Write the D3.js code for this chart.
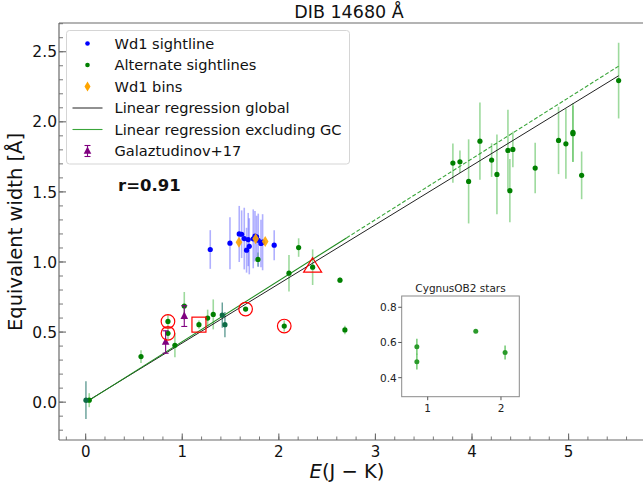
<!DOCTYPE html>
<html><head><meta charset="utf-8">
<script src="https://cdn.jsdelivr.net/npm/d3@7"></script>
<style>
body{margin:0;background:#fff;}
svg text{font-family:"DejaVu Sans",sans-serif;}
</style></head>
<body><svg id="c" width="643" height="488"></svg>
<script>
// ---------- data ----------
const wd1X   = [1.29,1.494,1.59,1.615,1.642,1.683,1.666,1.694,1.735,1.753,1.77,1.787,1.815,1.832,1.952];
const wd1Y   = [1.089,1.134,1.20,1.198,1.167,1.160,1.084,1.112,1.165,1.184,1.18,1.155,1.132,1.141,1.12];
const wd1Err = [0.138,0.185,0.2,0.17,0.22,0.19,0.16,0.2,0.21,0.18,0.15,0.19,0.17,0.2,0.107];

const binX = [1.587,1.76,1.859];
const binY = [1.141,1.165,1.146];

const altX   = [0.037,0.573,0.852,0.852,0.924,1.021,1.173,1.263,1.321,1.656,1.784,2.056,2.105,2.205,2.35,2.633,2.684,
                3.802,3.875,3.965,4.082,4.203,4.258,4.372,4.392,4.423,4.654,4.896,4.972,5.045,5.045,5.135,5.518];
const altY   = [0.014,0.325,0.576,0.491,0.406,0.686,0.553,0.600,0.626,0.664,1.018,0.543,0.920,1.103,0.963,0.870,0.515,
                1.706,1.715,1.575,1.862,1.727,1.625,1.796,1.509,1.803,1.670,1.867,1.843,1.924,1.915,1.618,2.294];
const altErr = [0.05,0.046,0.045,0.045,0.085,0.1,0.03,0.06,0.107,0.01,0.05,0.04,0.13,0.066,0.127,0.02,0.03,
                0.14,0.08,0.30,0.275,0.12,0.285,0.29,0.225,0.127,0.18,0.24,0.25,0.21,0.2,0.17,0.27];

// alternate sightlines whose error bars overlap Wd1-type bars (darker)
const altDarkX   = [0.003,1.414,1.442];
const altDarkY   = [0.014,0.621,0.553];
const altDarkErr = [0.135,0.09,0.09];

const galX   = [0.828,1.021];
const galY   = [0.429,0.614];
const galErr = [0.08,0.074];

const cygX = [0.852,0.852,1.656,2.056];
const cygY = [0.576,0.491,0.664,0.543];
const cygErr = [0.045,0.045,0.01,0.04];
const squareX = [1.173], squareY = [0.553];
const triX = [2.35], triY = [0.97];

const regGlobal = [0.422, 0.0];     // slope, intercept
const regExGC   = [0.435, -0.003];
const regRange  = [0.003, 5.518];
const regExGCSolidEnd = 2.7;

const xTicks = [0,1,2,3,4,5];
const yTicks = [0,0.5,1,1.5,2,2.5];
const insetXTicks = [1,2];
const insetYTicks = [0.4,0.6,0.8];
const legendLabels = ["Wd1 sightline","Alternate sightlines","Wd1 bins","Linear regression global","Linear regression excluding GC","Galaztudinov+17"];

// ---------- chart ----------
const svg = d3.select("#c");
const L=59, R=642, T=23, B=440;
const x = d3.scaleLinear().domain([-0.276,5.76]).range([L,R]);
const y = d3.scaleLinear().domain([-0.27,2.705]).range([B,T]);
const spine="#6a6a6a";

const plot = svg.append("g");
const greenErr="#4cbb4c";

const lineG = d3.line().x(d=>x(d)).y(d=>y(regGlobal[0]*d+regGlobal[1]));
const lineE = d3.line().x(d=>x(d)).y(d=>y(regExGC[0]*d+regExGC[1]));

function errbars(xs,ys,es,color,op,w){
  plot.append("g").selectAll("line").data(xs).join("line")
    .attr("x1",(d)=>x(d)).attr("x2",d=>x(d))
    .attr("y1",(d,i)=>y(ys[i]-es[i])).attr("y2",(d,i)=>y(ys[i]+es[i]))
    .attr("stroke",color).attr("stroke-opacity",op).attr("stroke-width",w);
}
errbars(altX,altY,altErr,greenErr,0.55,1.6);
errbars(wd1X,wd1Y,wd1Err,"#3030ff",0.38,1.6);
errbars(altDarkX,altDarkY,altDarkErr,"#2a7a70",0.85,1.2);

plot.append("path").datum(regRange).attr("d",lineG).attr("stroke","#222").attr("stroke-width",1).attr("fill","none");
plot.append("path").datum([regRange[0],regExGCSolidEnd]).attr("d",lineE).attr("stroke","#1e8a1e").attr("stroke-width",1.1).attr("fill","none");
plot.append("path").datum([regExGCSolidEnd,regRange[1]]).attr("d",lineE).attr("stroke","#3aa53a").attr("stroke-width",1.1).attr("stroke-dasharray","4,2").attr("fill","none");

plot.append("g").selectAll("circle").data(altX).join("circle")
  .attr("cx",d=>x(d)).attr("cy",(d,i)=>y(altY[i])).attr("r",2.6).attr("fill","green");
plot.append("g").selectAll("circle").data(altDarkX).join("circle")
  .attr("cx",d=>x(d)).attr("cy",(d,i)=>y(altDarkY[i])).attr("r",2.6).attr("fill","#0d6b45");
plot.append("g").selectAll("circle").data(wd1X).join("circle")
  .attr("cx",d=>x(d)).attr("cy",(d,i)=>y(wd1Y[i])).attr("r",2.6).attr("fill","blue");
const diamond = (cx,cy,w,h)=>`M${cx},${cy-h}L${cx+w},${cy}L${cx},${cy+h}L${cx-w},${cy}Z`;
plot.append("g").selectAll("path").data(binX).join("path")
  .attr("d",(d,i)=>diamond(x(d),y(binY[i]),3.3,5.5)).attr("fill","orange").attr("fill-opacity",0.9);

function galMark(g,cx,cy,yl,yh){
  g.append("line").attr("x1",cx).attr("x2",cx).attr("y1",yl).attr("y2",yh).attr("stroke","purple").attr("stroke-width",1.1);
  [yl,yh].forEach(v=>g.append("line").attr("x1",cx-3).attr("x2",cx+3).attr("y1",v).attr("y2",v).attr("stroke","purple").attr("stroke-width",1.1));
  g.append("path").attr("d",`M${cx},${cy-4.5}L${cx+3.8},${cy+2.8}L${cx-3.8},${cy+2.8}Z`).attr("fill","purple");
}
galX.forEach((d,i)=>galMark(plot,x(d),y(galY[i]),y(galY[i]-galErr[i]),y(galY[i]+galErr[i])));

plot.append("g").selectAll("circle").data(cygX).join("circle")
  .attr("cx",d=>x(d)).attr("cy",(d,i)=>y(cygY[i])).attr("r",6.8).attr("fill","none").attr("stroke","red").attr("stroke-width",1.2);
plot.append("g").selectAll("rect").data(squareX).join("rect")
  .attr("x",d=>x(d)-7).attr("y",(d,i)=>y(squareY[i])-7.5).attr("width",14).attr("height",15)
  .attr("fill","none").attr("stroke","red").attr("stroke-width",1.2);
plot.append("g").selectAll("path").data(triX).join("path")
  .attr("d",(d,i)=>{const cx=x(d),cy=y(triY[i]);return `M${cx},${cy-8.5}L${cx+9},${cy+6}L${cx-9},${cy+6}Z`;})
  .attr("fill","none").attr("stroke","red").attr("stroke-width",1.2);

svg.append("line").attr("x1",L).attr("x2",L).attr("y1",T).attr("y2",B).attr("stroke",spine).attr("stroke-width",1.2);
svg.append("line").attr("x1",L).attr("x2",643).attr("y1",B).attr("y2",B).attr("stroke",spine).attr("stroke-width",1.2);
svg.append("line").attr("x1",L).attr("x2",643).attr("y1",T).attr("y2",T).attr("stroke",spine).attr("stroke-width",1.2);

const xMinor = d3.range(-0.2,5.7,0.2).map(v=>+v.toFixed(2));
svg.append("g").selectAll("line").data(xMinor).join("line")
  .attr("x1",d=>x(d)).attr("x2",d=>x(d)).attr("y1",B).attr("y2",B-3.5).attr("stroke",spine).attr("stroke-width",0.9);
svg.append("g").selectAll("line").data(xTicks).join("line")
  .attr("x1",d=>x(d)).attr("x2",d=>x(d)).attr("y1",B).attr("y2",B-6.5).attr("stroke",spine).attr("stroke-width",1.1);
svg.append("g").selectAll("text").data(xTicks).join("text")
  .attr("x",d=>x(d)).attr("y",B+17).attr("text-anchor","middle").attr("font-size",15).attr("fill","#111").text(d=>d);

const yMinor = d3.range(-0.2,2.71,0.1).map(v=>+v.toFixed(2));
svg.append("g").selectAll("line").data(yMinor).join("line")
  .attr("x1",L).attr("x2",L+4).attr("y1",d=>y(d)).attr("y2",d=>y(d)).attr("stroke",spine).attr("stroke-width",0.9);
svg.append("g").selectAll("line").data(yTicks).join("line")
  .attr("x1",L).attr("x2",L+7).attr("y1",d=>y(d)).attr("y2",d=>y(d)).attr("stroke",spine).attr("stroke-width",1.1);
svg.append("g").selectAll("text").data(yTicks).join("text")
  .attr("x",L-2).attr("y",d=>y(d)+5.6).attr("text-anchor","end").attr("font-size",15.5).attr("fill","#111").text(d=>d.toFixed(1));

svg.append("text").attr("x",349).attr("y",18).attr("text-anchor","middle").attr("font-size",17.5).attr("fill","#111").text("DIB 14680 Å");
const xl = svg.append("text").attr("x",347).attr("y",478).attr("text-anchor","middle").attr("font-size",19.5).attr("fill","#111");
xl.append("tspan").attr("font-style","italic").text("E");
xl.append("tspan").text("(J − K)");
svg.append("text").attr("transform","translate(22,232) rotate(-90)").attr("text-anchor","middle").attr("font-size",19.5).attr("fill","#111").text("Equivalent width [Å]");
svg.append("text").attr("x",118).attr("y",191).attr("font-size",16.5).attr("font-weight","bold").attr("fill","#111").text("r=0.91");

const lg = svg.append("g");
lg.append("rect").attr("x",66.5).attr("y",30.5).attr("width",283).attr("height",133.5).attr("rx",3)
  .attr("fill","#fff").attr("fill-opacity",0.85).attr("stroke","#d5d5d5").attr("stroke-width",1);
const rowY = i=>43.5+i*21.5;
const mx=87.5;
lg.append("circle").attr("cx",mx).attr("cy",rowY(0)).attr("r",2.3).attr("fill","blue");
lg.append("circle").attr("cx",mx).attr("cy",rowY(1)).attr("r",2.3).attr("fill","green");
lg.append("path").attr("d",diamond(mx,rowY(2),3,5)).attr("fill","orange");
lg.append("line").attr("x1",72.5).attr("x2",102.5).attr("y1",rowY(3)).attr("y2",rowY(3)).attr("stroke","#222").attr("stroke-width",1);
lg.append("line").attr("x1",72.5).attr("x2",102.5).attr("y1",rowY(4)).attr("y2",rowY(4)).attr("stroke","#3aa53a").attr("stroke-width",1.1);
galMark(lg,mx,rowY(5),rowY(5)-5.5,rowY(5)+5.5);
lg.append("g").selectAll("text").data(legendLabels).join("text")
  .attr("x",114.5).attr("y",(d,i)=>rowY(i)+5).attr("font-size",14.6).attr("fill","#111").text(d=>d);

const iL=401.7,iR=519.3,iT=296,iB=396.7;
const ix=d3.scaleLinear().domain([0.645,2.25]).range([iL,iR]);
const iy=d3.scaleLinear().domain([0.292,0.864]).range([iB,iT]);
const ins = svg.append("g");
ins.append("rect").attr("x",iL).attr("y",iT).attr("width",iR-iL).attr("height",iB-iT).attr("fill","#fff").attr("stroke","#8a8a8a").attr("stroke-width",1);
ins.append("g").selectAll("line").data(cygX).join("line")
  .attr("x1",d=>ix(d)).attr("x2",d=>ix(d)).attr("y1",(d,i)=>iy(cygY[i]-cygErr[i])).attr("y2",(d,i)=>iy(cygY[i]+cygErr[i]))
  .attr("stroke",greenErr).attr("stroke-opacity",0.8).attr("stroke-width",1.5);
ins.append("g").selectAll("circle").data(cygX).join("circle")
  .attr("cx",d=>ix(d)).attr("cy",(d,i)=>iy(cygY[i])).attr("r",2.5).attr("fill","#2a9a2a");
ins.append("g").selectAll("line").data(insetXTicks).join("line")
  .attr("x1",d=>ix(d)).attr("x2",d=>ix(d)).attr("y1",iB).attr("y2",iB+3.5).attr("stroke","#555");
ins.append("g").selectAll("text").data(insetXTicks).join("text")
  .attr("x",d=>ix(d)).attr("y",iB+15).attr("text-anchor","middle").attr("font-size",10.5).attr("fill","#222").text(d=>d);
ins.append("g").selectAll("line").data(insetYTicks).join("line")
  .attr("x1",iL-3.5).attr("x2",iL).attr("y1",d=>iy(d)).attr("y2",d=>iy(d)).attr("stroke","#555");
ins.append("g").selectAll("text").data(insetYTicks).join("text")
  .attr("x",iL-5).attr("y",d=>iy(d)+4).attr("text-anchor","end").attr("font-size",10.5).attr("fill","#222").text(d=>d.toFixed(1));
ins.append("text").attr("x",(iL+iR)/2).attr("y",iT-4).attr("text-anchor","middle").attr("font-size",10.5).attr("fill","#222").text("CygnusOB2 stars");
</script></body></html>
